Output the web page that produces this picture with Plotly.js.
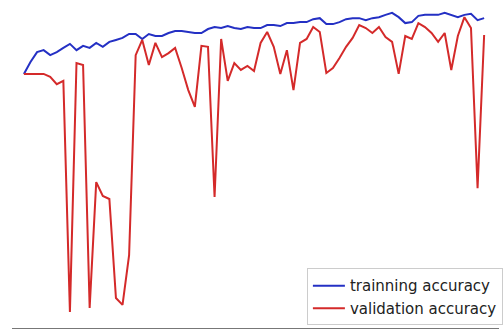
<!DOCTYPE html>
<html>
<head>
<meta charset="utf-8">
<script src="https://cdn.plot.ly/plotly-3.0.1.min.js"></script>
<style>html,body{margin:0;padding:0;background:#fff;}#chart{width:503px;height:329px;}</style>
</head>
<body>
<div id="chart"></div>
<script>
const epochs = Array.from({length: 71}, (_, i) => i);
const trainAcc = [0.776,0.812,0.842,0.848,0.833,0.842,0.855,0.867,0.848,0.861,
  0.855,0.870,0.858,0.873,0.879,0.885,0.897,0.897,0.882,0.897,
  0.891,0.891,0.900,0.906,0.906,0.903,0.900,0.900,0.912,0.918,
  0.915,0.921,0.915,0.912,0.918,0.915,0.915,0.924,0.924,0.921,
  0.930,0.930,0.933,0.933,0.942,0.945,0.927,0.927,0.933,0.942,
  0.945,0.945,0.939,0.945,0.948,0.955,0.961,0.948,0.930,0.933,
  0.952,0.955,0.955,0.955,0.961,0.955,0.948,0.955,0.958,0.939,0.945];
const valAcc = [0.776,0.776,0.776,0.776,0.767,0.745,0.755,0.055,0.809,0.803,
  0.067,0.448,0.406,0.397,0.097,0.076,0.227,0.833,0.879,0.803,
  0.870,0.827,0.839,0.855,0.794,0.727,0.676,0.861,0.858,0.403,
  0.882,0.755,0.809,0.788,0.800,0.785,0.870,0.903,0.858,0.776,
  0.848,0.727,0.870,0.882,0.918,0.903,0.779,0.794,0.824,0.858,
  0.885,0.924,0.915,0.900,0.918,0.888,0.873,0.776,0.891,0.882,
  0.930,0.918,0.900,0.873,0.900,0.788,0.891,0.948,0.915,0.430,0.894];
const seriesNames = ['trainning accuracy', 'validation accuracy'];

const traces = [
  {x: epochs, y: trainAcc, name: seriesNames[0], mode: 'lines',
   line: {color: '#2430c4', width: 2}},
  {x: epochs, y: valAcc, name: seriesNames[1], mode: 'lines',
   line: {color: '#d42a2a', width: 2}}
];

const layout = {
  width: 503, height: 329,
  margin: {l: 12, r: 0, t: 0, b: 1, pad: 0},
  paper_bgcolor: '#fff', plot_bgcolor: '#fff',
  showlegend: true,
  xaxis: {range: [-1.81, 72.26], showgrid: false, zeroline: false, showticklabels: false,
          ticks: '', showline: true, linecolor: '#777', linewidth: 2},
  yaxis: {range: [0.00606, 1], showgrid: false, zeroline: false, showticklabels: false,
          ticks: '', showline: false},
  legend: {x: 1.008, xanchor: 'right', y: 0.008, yanchor: 'bottom',
           bgcolor: '#fff', bordercolor: '#ccc', borderwidth: 1,
           itemwidth: 32, tracegroupgap: 0,
           font: {family: 'DejaVu Sans', size: 15, color: '#222'}},
  font: {family: 'DejaVu Sans'}
};

Plotly.newPlot('chart', traces, layout, {staticPlot: true, displayModeBar: false});
</script>
</body>
</html>
